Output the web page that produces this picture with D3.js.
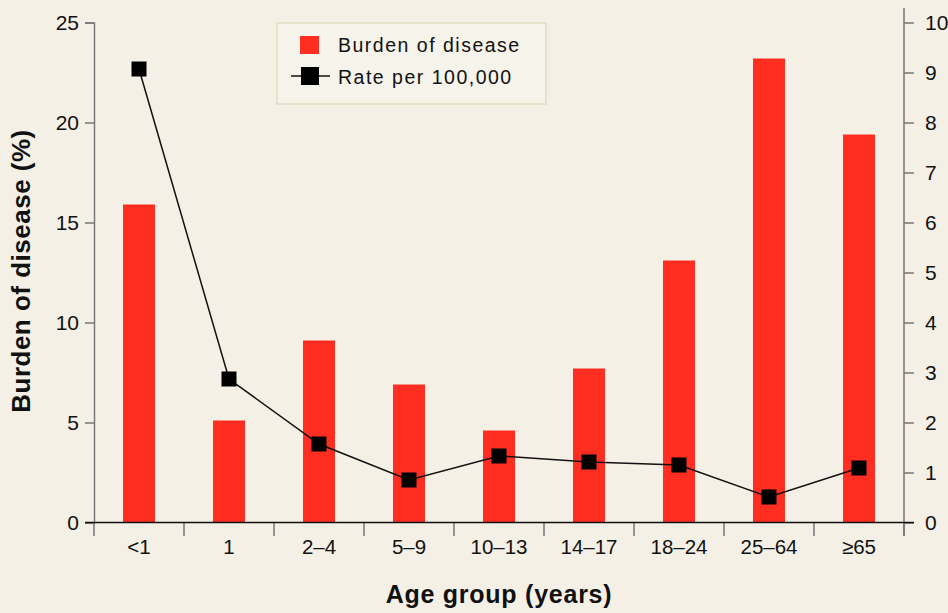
<!DOCTYPE html>
<html>
<head>
<meta charset="utf-8">
<script src="https://cdn.jsdelivr.net/npm/d3@7"></script>
<style>
  body { margin: 0; background: #f4f0e6; }
  svg { display: block; font-family: "Liberation Sans", Arial, sans-serif; }
</style>
</head>
<body>
<div id="chart"></div>
<script>
// data
var ageGroups = ["<1", "1", "2–4", "5–9", "10–13", "14–17", "18–24", "25–64", "≥65"];
var burden = [15.9, 5.1, 9.1, 6.9, 4.6, 7.7, 13.1, 23.2, 19.4];
var rate = [9.07, 2.87, 1.57, 0.85, 1.33, 1.21, 1.15, 0.51, 1.09];
var leftTicks = [0, 5, 10, 15, 20, 25];
var rightTicks = [0, 1, 2, 3, 4, 5, 6, 7, 8, 9, 10];

var width = 948, height = 613;
var margin = {top: 22.5, right: 44, bottom: 90.5, left: 94};
var innerW = width - margin.left - margin.right,
    innerH = height - margin.top - margin.bottom;

var svg = d3.select("#chart").append("svg")
    .attr("width", width)
    .attr("height", height);

svg.append("rect")
    .attr("width", width).attr("height", height)
    .attr("fill", "#f4f0e6");

var g = svg.append("g")
    .attr("transform", "translate(" + margin.left + "," + margin.top + ")");

var x = d3.scaleBand()
    .domain(ageGroups)
    .range([0, innerW]);

var yL = d3.scaleLinear().domain([0, 25]).range([innerH, 0]);
var yR = d3.scaleLinear().domain([0, 10]).range([innerH, 0]);

var barW = 32;

// bars
g.selectAll(".bar")
    .data(burden)
    .enter().append("rect")
    .attr("class", "bar")
    .attr("x", (d, i) => x(ageGroups[i]) + x.bandwidth() / 2 - barW / 2)
    .attr("y", d => yL(d))
    .attr("width", barW)
    .attr("height", d => innerH - yL(d))
    .attr("fill", "#ff2e20");

// left axis
var axisL = g.append("g")
    .call(d3.axisLeft(yL).tickValues(leftTicks).tickSize(9).tickPadding(6));
axisL.select(".domain").attr("stroke", "#777").attr("stroke-width", 1.5);
axisL.selectAll(".tick line").attr("stroke", "#777").attr("stroke-width", 1.5);
axisL.selectAll("text").attr("font-size", 21).attr("fill", "#111");

// right axis
var axisR = g.append("g")
    .attr("transform", "translate(" + innerW + ",0)")
    .call(d3.axisRight(yR).tickValues(rightTicks).tickSize(10).tickPadding(11));
axisR.select(".domain").attr("stroke", "#777").attr("stroke-width", 1.5)
    .attr("d", "M0," + (-14.5) + "V" + (innerH + 13.5));
axisR.selectAll(".tick line").attr("stroke", "#777").attr("stroke-width", 1.5);
axisR.selectAll("text").attr("font-size", 21).attr("fill", "#111");

// x axis: ticks at the band edges, labels centred
var edges = ageGroups.map(d => x(d)).concat([innerW]);
g.append("g").selectAll("line")
    .data(edges)
    .enter().append("line")
    .attr("x1", d => d).attr("x2", d => d)
    .attr("y1", innerH).attr("y2", innerH + 13.5)
    .attr("stroke", "#777").attr("stroke-width", 1.5);

g.append("line")
    .attr("x1", -9).attr("x2", innerW + 10)
    .attr("y1", innerH).attr("y2", innerH)
    .attr("stroke", "#111").attr("stroke-width", 1.5);

g.append("g").selectAll("text")
    .data(ageGroups)
    .enter().append("text")
    .attr("x", d => x(d) + x.bandwidth() / 2)
    .attr("y", innerH + 31)
    .attr("text-anchor", "middle")
    .attr("font-size", 20.5)
    .attr("fill", "#111")
    .text(d => d);

// rate line
var line = d3.line()
    .x((d, i) => x(ageGroups[i]) + x.bandwidth() / 2)
    .y(d => yR(d));

g.append("path")
    .datum(rate)
    .attr("d", line)
    .attr("fill", "none")
    .attr("stroke", "#111")
    .attr("stroke-width", 1.5);

var sq = 15;
g.selectAll(".pt")
    .data(rate)
    .enter().append("rect")
    .attr("class", "pt")
    .attr("x", (d, i) => x(ageGroups[i]) + x.bandwidth() / 2 - sq / 2)
    .attr("y", d => yR(d) - sq / 2)
    .attr("width", sq).attr("height", sq)
    .attr("fill", "#000");

// axis titles
svg.append("text")
    .attr("transform", "translate(30,271) rotate(-90)")
    .attr("text-anchor", "middle")
    .attr("font-size", 26)
    .attr("letter-spacing", 0.5)
    .attr("font-weight", "bold")
    .attr("fill", "#111")
    .text("Burden of disease (%)");

svg.append("text")
    .attr("x", 499)
    .attr("y", 603)
    .attr("text-anchor", "middle")
    .attr("font-size", 25)
    .attr("letter-spacing", 0.75)
    .attr("font-weight", "bold")
    .attr("fill", "#111")
    .text("Age group (years)");

// legend
var lg = svg.append("g").attr("transform", "translate(277,23)");
lg.append("rect")
    .attr("width", 269).attr("height", 81)
    .attr("fill", "#f6f3eb")
    .attr("stroke", "#e4dbc3").attr("stroke-width", 1.5);
lg.append("rect")
    .attr("x", 23).attr("y", 13).attr("width", 19).attr("height", 18)
    .attr("fill", "#ff2e20");
lg.append("text")
    .attr("x", 61).attr("y", 29)
    .attr("font-size", 19.5).attr("letter-spacing", 1.5).attr("fill", "#111")
    .text("Burden of disease");
lg.append("line")
    .attr("x1", 14).attr("x2", 53).attr("y1", 53).attr("y2", 53)
    .attr("stroke", "#111").attr("stroke-width", 1.5);
lg.append("rect")
    .attr("x", 24).attr("y", 44).attr("width", 18).attr("height", 18)
    .attr("fill", "#000");
lg.append("text")
    .attr("x", 61).attr("y", 61)
    .attr("font-size", 19.5).attr("letter-spacing", 1.5).attr("fill", "#111")
    .text("Rate per 100,000");
</script>
</body>
</html>
